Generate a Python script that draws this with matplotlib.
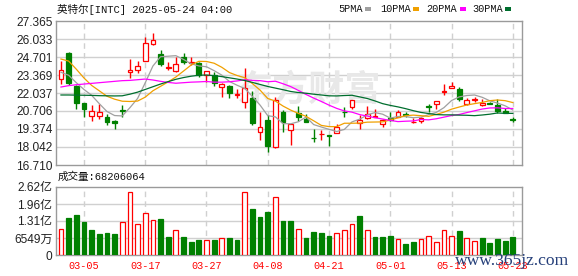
import matplotlib
matplotlib.use("Agg")
import matplotlib.pyplot as plt
from matplotlib.patches import Rectangle

# ---------------- data ----------------
dates = ["02-28", "03-03", "03-04", "03-05", "03-06", "03-07", "03-10", "03-11", "03-12", "03-13",
         "03-14", "03-17", "03-18", "03-19", "03-20", "03-21", "03-24", "03-25", "03-26", "03-27",
         "03-28", "03-31", "04-01", "04-02", "04-03", "04-04", "04-07", "04-08", "04-09", "04-10",
         "04-11", "04-14", "04-15", "04-16", "04-17", "04-21", "04-22", "04-23", "04-24", "04-25",
         "04-28", "04-29", "04-30", "05-01", "05-02", "05-05", "05-06", "05-07", "05-08", "05-09",
         "05-12", "05-13", "05-14", "05-15", "05-16", "05-19", "05-20", "05-21", "05-22", "05-23"]
tick_dates = ["03-05", "03-17", "03-27", "04-08", "04-21", "05-01", "05-13", "05-23"]

opens = [23.07, 24.97, 22.56, 21.27, 20.33, 20.33, 20.24, 19.94, 20.78, 23.57,
         23.74, 24.43, 25.64, 24.90, 23.86, 23.67, 24.68, 24.28, 24.23, 23.37,
         23.37, 22.46, 22.56, 21.89, 21.40, 21.64, 19.18, 20.02, 18.07, 20.66,
         19.27, 20.53, 20.11, 18.73, 18.98, 18.91, 19.06, 20.66, 21.03, 19.79,
         20.16, 20.29, 19.74, 20.16, 20.29, 20.48, 19.87, 19.97, 21.08, 21.23,
         22.11, 22.38, 22.33, 21.23, 21.55, 21.15, 21.30, 21.15, 20.71, 20.09]
highs = [24.43, 25.05, 22.60, 21.32, 21.15, 21.22, 20.46, 20.04, 21.15, 24.55,
         24.41, 26.18, 26.45, 25.22, 24.31, 24.70, 25.00, 24.70, 24.36, 23.64,
         23.62, 22.75, 22.63, 22.33, 23.91, 22.19, 20.61, 20.41, 21.74, 20.78,
         19.72, 21.08, 20.48, 19.37, 19.30, 18.93, 19.74, 21.00, 21.50, 20.41,
         21.10, 20.85, 20.09, 20.61, 20.78, 20.61, 20.16, 20.29, 21.22, 21.43,
         22.70, 22.88, 22.50, 21.64, 21.77, 21.57, 21.40, 21.57, 20.90, 20.29]
lows = [22.68, 22.63, 20.83, 20.24, 19.97, 20.14, 19.67, 19.35, 20.26, 23.17,
        23.52, 24.40, 25.60, 24.06, 23.74, 23.57, 24.16, 24.11, 23.25, 22.88,
        22.56, 21.77, 21.69, 21.69, 20.90, 19.67, 18.56, 17.65, 17.99, 19.18,
        18.19, 19.97, 19.87, 18.44, 18.56, 18.14, 19.06, 20.29, 20.85, 19.35,
        20.11, 20.24, 19.55, 19.97, 20.24, 20.29, 19.79, 19.79, 20.66, 20.83,
        21.89, 22.38, 21.45, 21.15, 21.40, 21.10, 21.20, 20.58, 20.53, 19.92]
closes = [23.74, 22.80, 21.32, 20.83, 20.68, 20.61, 19.92, 19.79, 20.71, 23.74,
          24.01, 25.71, 25.96, 24.16, 23.96, 24.21, 24.31, 24.36, 23.37, 23.64,
          22.75, 22.70, 22.01, 21.96, 22.43, 19.79, 19.50, 18.14, 21.50, 19.92,
          19.72, 20.29, 19.87, 18.68, 19.03, 18.86, 19.50, 20.63, 21.50, 20.02,
          20.46, 20.33, 20.02, 20.06, 20.61, 20.43, 19.92, 20.21, 21.03, 21.42,
          22.16, 22.58, 21.57, 21.52, 21.62, 21.32, 21.25, 20.73, 20.53, 20.06]

ma5 = [23.57, 23.35, 22.80, 22.30, 21.87, 21.25, 20.67, 20.37, 20.34, 20.95,
       21.63, 22.79, 24.03, 24.72, 24.76, 24.80, 24.52, 24.20, 24.04, 23.98,
       23.69, 23.36, 22.89, 22.61, 22.37, 21.78, 21.14, 20.36, 20.27, 19.77,
       19.76, 19.91, 20.26, 19.70, 19.52, 19.35, 19.19, 19.34, 19.90, 20.10,
       20.42, 20.59, 20.47, 20.18, 20.30, 20.29, 20.21, 20.25, 20.44, 20.60,
       20.95, 21.48, 21.75, 21.85, 21.89, 21.72, 21.46, 21.29, 21.09, 20.78]
ma10 = [24.55, 24.40, 23.80, 23.15, 22.60, 22.20, 21.80, 21.58, 21.43, 21.41,
        21.44, 21.73, 22.20, 22.53, 22.86, 23.22, 23.66, 24.11, 24.38, 24.37,
        24.24, 23.94, 23.55, 23.33, 23.17, 22.73, 22.25, 21.63, 21.44, 21.07,
        20.77, 20.53, 20.31, 19.98, 19.64, 19.55, 19.55, 19.80, 19.80, 19.81,
        19.88, 19.89, 19.90, 20.04, 20.20, 20.36, 20.40, 20.36, 20.31, 20.45,
        20.62, 20.84, 21.00, 21.15, 21.25, 21.34, 21.47, 21.52, 21.47, 21.33]
ma20 = [22.48, 22.58, 22.65, 22.70, 22.75, 22.80, 22.85, 22.90, 22.95, 22.97,
        23.02, 23.07, 23.00, 22.90, 22.82, 22.76, 22.80, 22.84, 22.86, 22.89,
        22.84, 22.84, 22.87, 22.93, 23.02, 22.97, 22.95, 22.87, 22.91, 22.72,
        22.51, 22.23, 21.93, 21.66, 21.41, 21.14, 20.90, 20.71, 20.62, 20.44,
        20.33, 20.21, 20.11, 20.01, 19.92, 19.95, 19.97, 20.08, 20.05, 20.13,
        20.25, 20.37, 20.45, 20.59, 20.72, 20.85, 20.93, 20.94, 20.89, 20.89]
ma30 = [21.89, 21.89, 21.88, 21.87, 21.86, 21.84, 21.83, 21.82, 21.83, 21.95,
        22.10, 22.30, 22.50, 22.70, 22.88, 23.05, 23.18, 23.28, 23.35, 23.37,
        23.32, 23.25, 23.16, 23.07, 22.96, 22.82, 22.67, 22.52, 22.40, 22.28,
        22.15, 22.07, 22.02, 21.95, 21.89, 21.83, 21.82, 21.85, 21.87, 21.75,
        21.63, 21.45, 21.25, 21.12, 21.01, 20.88, 20.73, 20.60, 20.52, 20.44,
        20.42, 20.42, 20.40, 20.39, 20.36, 20.41, 20.47, 20.56, 20.53, 20.53]

volumes = [102, 142, 153, 127, 96, 81, 84, 81, 129, 244,
           118, 160, 133, 138, 69, 95, 69, 50, 58, 56,
           58, 64, 65, 58, 244, 176, 146, 165, 225, 130,
           130, 102, 65, 88, 84, 73, 84, 95, 118, 150,
           95, 69, 69, 73, 60, 42, 50, 60, 72, 50,
           95, 75, 92, 64, 54, 65, 46, 61, 54, 68.206064]  # millions
vol_up = [1, 0, 0, 0, 0, 0, 0, 0, 1, 1,
          1, 1, 1, 0, 0, 1, 0, 0, 0, 1,
          0, 1, 0, 0, 1, 0, 0, 0, 1, 0,
          0, 1, 0, 0, 0, 0, 1, 1, 1, 0,
          1, 0, 0, 0, 1, 0, 0, 1, 1, 1,
          1, 1, 0, 1, 1, 0, 0, 0, 0, 0]

price_ticks = [16.710, 18.042, 19.374, 20.706, 22.037, 23.369, 24.701, 26.033, 27.365]
price_labels = ["16.710", "18.042", "19.374", "20.706", "22.037", "23.369", "24.701", "26.033", "27.365"]
vol_ticks = [0, 65.49, 130.98, 196.47, 261.96]
vol_labels = ["0", "6549万", "1.31亿", "1.96亿", "2.62亿"]
ma_names = ["5PMA", "10PMA", "20PMA", "30PMA"]

title = "英特尔[INTC] 2025-05-24 04:00"
vol_title = "成交量:68206064"

# ---------------- style ----------------
RED = "#ff0000"
GREEN = "#008000"
GRID = "#d0d0d0"
SPINE = "#9a9a9a"
MA_COLORS = ["#a0a0a0", "#f0a000", "#ff00ff", "#006e2e"]
W, H = 578, 276

fig = plt.figure(figsize=(W / 100, H / 100), dpi=100)
fig.patch.set_facecolor("white")

def fx(px):
    return px / W

def fy(py):
    return 1 - py / H

ax = fig.add_axes([fx(56), fy(165), fx(522) - fx(56), fy(21) - fy(165)])
axv = fig.add_axes([fx(56), fy(255), fx(522) - fx(56), fy(187) - fy(255)])

n = len(dates)
xs = list(range(n))
tick_idx = [dates.index(d) for d in tick_dates]
xlim = (-0.65, 60.2)

for a in (ax, axv):
    a.set_xlim(*xlim)
    for s in a.spines.values():
        s.set_color(SPINE)
        s.set_linewidth(1.0)
    a.tick_params(length=0)
    a.set_axisbelow(True)
    for t in tick_idx:
        a.axvline(t, color=GRID, lw=1.0, ls=(0, (4, 3)), zorder=0.5)

# price panel
ax.set_ylim(price_ticks[0], price_ticks[-1])
ax.set_yticks(price_ticks)
ax.set_yticklabels(price_labels, family="Liberation Sans", fontsize=8.6, color="#222222")
ax.tick_params(axis="y", pad=2.5)
ax.set_xticks([])
for p in price_ticks[1:-1]:
    ax.axhline(p, color=GRID, lw=1.0, zorder=0.5)

# watermark
ax.text(fx(309), fy(90), "东方财富", transform=fig.transFigure, ha="center", va="center",
        family="Noto Sans CJK SC", fontsize=26, fontweight="bold", color="#e8e8e8", zorder=0.6)

body_w = 0.62
for i in xs:
    o, h, l, c = opens[i], highs[i], lows[i], closes[i]
    up = c >= o
    col = RED if up else GREEN
    ax.vlines(i, l, h, color=col, lw=1.0, zorder=2)
    bot = min(o, c)
    hgt = max(abs(c - o), 0.02)
    ax.bar(i, hgt, bottom=bot, width=body_w, facecolor="white" if up else GREEN,
           edgecolor=col, linewidth=0.9, zorder=3)

for series, col in zip([ma5, ma10, ma20, ma30], MA_COLORS):
    ax.plot(xs, series, color=col, lw=0.9, zorder=4)

# volume panel
axv.set_ylim(vol_ticks[0], vol_ticks[-1])
axv.set_yticks(vol_ticks)
axv.set_yticklabels(vol_labels, family=["Liberation Sans", "Noto Sans CJK SC"], fontsize=8.6,
                    color="#222222")
axv.tick_params(axis="y", pad=2.5)
for v in vol_ticks[1:-1]:
    axv.axhline(v, color=GRID, lw=1.0, zorder=0.5)
for i in xs:
    up = vol_up[i] == 1
    axv.bar(i, volumes[i], width=body_w, facecolor="white" if up else GREEN,
            edgecolor=RED if up else GREEN, linewidth=0.9, zorder=3)
axv.set_xticks(tick_idx)
axv.set_xticklabels(tick_dates, family="Liberation Mono", fontsize=7.3, color=RED)
axv.tick_params(axis="x", pad=4)

# texts
mixed = ["Liberation Mono", "Noto Sans CJK SC"]
fig.text(fx(57), fy(9.5), title, family=mixed, fontsize=7.6, ha="left", va="center", color="#111111")
fig.text(fx(58), fy(177), vol_title, family=mixed, fontsize=7.6, ha="left", va="center", color="#111111")

leg_x = [338, 380, 426, 472]
sq_x = [365, 413, 460, 505]
for name, col, tx, sx in zip(ma_names, MA_COLORS, leg_x, sq_x):
    fig.text(fx(tx), fy(9.5), name, family="Liberation Mono", fontsize=7.4, ha="left", va="center",
             color="#111111")
    fig.patches.append(Rectangle((fx(sx), fy(11)), fx(6), 4 / H, transform=fig.transFigure,
                                 facecolor=col, edgecolor="none"))

fig.text(fx(455), fy(261), "www.365jz.com", family="Liberation Serif", fontsize=12.6,
         ha="left", va="center", color="#26407a", zorder=10)

fig.savefig("out.png", dpi=100, facecolor="white")
